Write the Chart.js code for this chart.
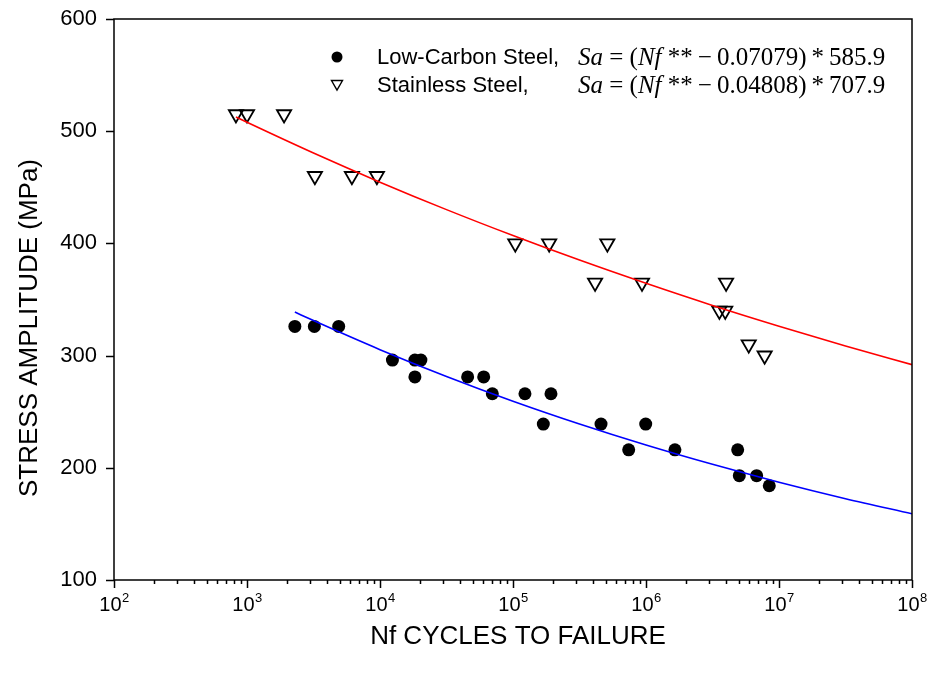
<!DOCTYPE html>
<html>
<head>
<meta charset="utf-8">
<title>Stress amplitude vs cycles to failure</title>
<script src="https://cdn.jsdelivr.net/npm/chart.js@4.4.1/dist/chart.umd.min.js"></script>
<style>
    html, body { margin: 0; padding: 0; background: #fff; }
    #wrap { width: 933px; height: 673px; }
</style>
</head>
<body>
<div id="wrap"><canvas id="snChart" width="933" height="673"></canvas></div>
<script>
// measured points (cycles, MPa)
const lowCarbonN = [2290, 3210, 4890, 12400, 18300, 20300, 18300, 45600, 60200, 69900, 123000, 193000,
    169000, 459000, 995000, 741000, 1650000, 4890000, 5030000, 6790000, 8450000];
const lowCarbonS = [326, 326, 326, 296, 296, 296, 281, 281, 281, 266, 266, 266,
    239, 239, 239, 216, 216, 216, 193, 193, 184];

const stainlessN = [826, 1000, 1900, 3240, 6150, 9480, 104000, 187000, 512000, 414000, 933000,
    4000000, 3560000, 3940000, 5920000, 7800000];
const stainlessS = [515, 515, 515, 460, 460, 460, 400, 400, 400, 365, 365,
    365, 340, 340, 310, 300];

// fitted curves
const lowFitN = [2290, 3162, 10000, 31623, 100000, 316228, 1000000, 3162278, 10000000, 31622777, 100000000];
const lowFitS = [338.8, 331.2, 305.3, 281.4, 259.3, 239.0, 220.3, 203.1, 187.2, 172.5, 159.0];
const stainFitN = [826, 1000, 3162, 10000, 31623, 100000, 316228, 1000000, 3162278, 10000000, 31622777, 100000000];
const stainFitS = [512.6, 507.9, 480.5, 454.6, 430.1, 407.0, 385.1, 364.4, 344.7, 326.2, 308.6, 291.9];

// axes
const xTickPowers = [2, 3, 4, 5, 6, 7, 8];
const yTicks = [100, 200, 300, 400, 500, 600];
const xTitle = 'Nf CYCLES TO FAILURE';
const yTitle = 'STRESS AMPLITUDE (MPa)';

// legend
const seriesNames = ['Low-Carbon Steel,', 'Stainless Steel,'];
const fitExponents = ['0.07079', '0.04808'];
const fitCoefs = ['585.9', '707.9'];

const SANS = '"Liberation Sans", Arial, sans-serif';
const SERIF = '"Liberation Serif", "Times New Roman", serif';

function toXY(xs, ys) {
    return xs.map((v, i) => ({ x: v, y: ys[i] }));
}

/**
 * 축, 눈금, 범례 그리기
 */
const framePlugin = {
    id: 'frame',
    beforeDraw(chart) {
        const ctx = chart.ctx;
        ctx.save();
        ctx.fillStyle = '#fff';
        ctx.fillRect(0, 0, chart.width, chart.height);
        ctx.restore();
    },
    afterDraw(chart) {
        const { ctx, chartArea: a, scales: { x, y } } = chart;
        ctx.save();
        ctx.strokeStyle = '#000';
        ctx.fillStyle = '#000';
        ctx.lineWidth = 1.5;
        ctx.strokeRect(a.left, a.top, a.right - a.left, a.bottom - a.top);

        // x ticks (major + minor)
        ctx.beginPath();
        xTickPowers.forEach((p, i) => {
            const last = i === xTickPowers.length - 1;
            for (let m = 1; m <= (last ? 1 : 9); m++) {
                const px = Math.round(x.getPixelForValue(m * Math.pow(10, p))) + 0.5;
                const len = m === 1 ? 8 : 4;
                ctx.moveTo(px, a.bottom);
                ctx.lineTo(px, a.bottom + len);
            }
        });
        // y ticks
        yTicks.forEach(v => {
            const py = Math.round(y.getPixelForValue(v)) + 0.5;
            ctx.moveTo(a.left - 8, py);
            ctx.lineTo(a.left, py);
        });
        ctx.stroke();

        // y tick labels
        ctx.font = '22px ' + SANS;
        ctx.textAlign = 'right';
        ctx.textBaseline = 'middle';
        yTicks.forEach(v => {
            ctx.fillText(String(v), a.left - 17, y.getPixelForValue(v));
        });

        // x tick labels 10^n
        ctx.textAlign = 'left';
        ctx.textBaseline = 'alphabetic';
        xTickPowers.forEach(p => {
            const px = x.getPixelForValue(Math.pow(10, p));
            ctx.font = '20px ' + SANS;
            const w1 = ctx.measureText('10').width;
            ctx.font = '13px ' + SANS;
            const w2 = ctx.measureText(String(p)).width;
            const start = px - (w1 + w2) / 2;
            ctx.font = '20px ' + SANS;
            ctx.fillText('10', start, 611);
            ctx.font = '13px ' + SANS;
            ctx.fillText(String(p), start + w1 + 0.5, 602);
        });

        // axis titles
        ctx.font = '26px ' + SANS;
        ctx.textAlign = 'center';
        ctx.textBaseline = 'middle';
        ctx.fillText(xTitle, 518, 637);
        ctx.save();
        ctx.translate(30, 328);
        ctx.rotate(-Math.PI / 2);
        ctx.fillText(yTitle, 0, 0);
        ctx.restore();

        // legend
        const rows = [57, 85];
        // circle marker
        ctx.beginPath();
        ctx.arc(337, rows[0], 5.5, 0, Math.PI * 2);
        ctx.fill();
        // triangle marker (down)
        ctx.beginPath();
        ctx.moveTo(331.5, rows[1] - 4.5);
        ctx.lineTo(342.5, rows[1] - 4.5);
        ctx.lineTo(337, rows[1] + 5);
        ctx.closePath();
        ctx.lineWidth = 1.4;
        ctx.stroke();

        ctx.textAlign = 'left';
        ctx.textBaseline = 'middle';
        ctx.font = '22px ' + SANS;
        seriesNames.forEach((name, i) => ctx.fillText(name, 377, rows[i] + 1));

        rows.forEach((ry, i) => {
            const parts = [
                ['italic 25px ' + SERIF, 'Sa'],
                ['25px ' + SERIF, ' = ('],
                ['italic 25px ' + SERIF, 'Nf'],
                ['25px ' + SERIF, ' **\u2009\u2212\u2009' + fitExponents[i] + ')\u2009*\u2009' + fitCoefs[i]]
            ];
            let cx = 578;
            parts.forEach(([f, t]) => {
                ctx.font = f;
                ctx.fillText(t, cx, ry + 1);
                cx += ctx.measureText(t).width;
            });
        });
        ctx.restore();
    }
};

new Chart(document.getElementById('snChart'), {
    type: 'scatter',
    data: {
        datasets: [
            {
                label: 'Low-Carbon fit',
                data: toXY(lowFitN, lowFitS),
                showLine: true,
                borderColor: '#0000ff',
                borderWidth: 1.6,
                pointRadius: 0,
                cubicInterpolationMode: 'monotone',
                order: 0
            },
            {
                label: 'Stainless fit',
                data: toXY(stainFitN, stainFitS),
                showLine: true,
                borderColor: '#ff0000',
                borderWidth: 1.6,
                pointRadius: 0,
                cubicInterpolationMode: 'monotone',
                order: 0
            },
            {
                label: 'Low-Carbon Steel',
                data: toXY(lowCarbonN, lowCarbonS),
                pointStyle: 'circle',
                pointRadius: 6.5,
                backgroundColor: '#000',
                borderColor: '#000',
                borderWidth: 0,
                order: 1
            },
            {
                label: 'Stainless Steel',
                data: toXY(stainlessN, stainlessS),
                pointStyle: 'triangle',
                rotation: 180,
                pointRadius: 8.2,
                backgroundColor: 'rgba(0,0,0,0)',
                borderColor: '#000',
                borderWidth: 1.8,
                order: 1
            }
        ]
    },
    options: {
        responsive: false,
        animation: false,
        events: [],
        layout: { padding: { left: 114, top: 19, right: 21, bottom: 93 } },
        scales: {
            x: { type: 'logarithmic', min: 100, max: 100000000, display: false },
            y: { type: 'linear', min: 100, max: 600, display: false }
        },
        plugins: {
            legend: { display: false },
            tooltip: { enabled: false }
        }
    },
    plugins: [framePlugin]
});
</script>
</body>
</html>
